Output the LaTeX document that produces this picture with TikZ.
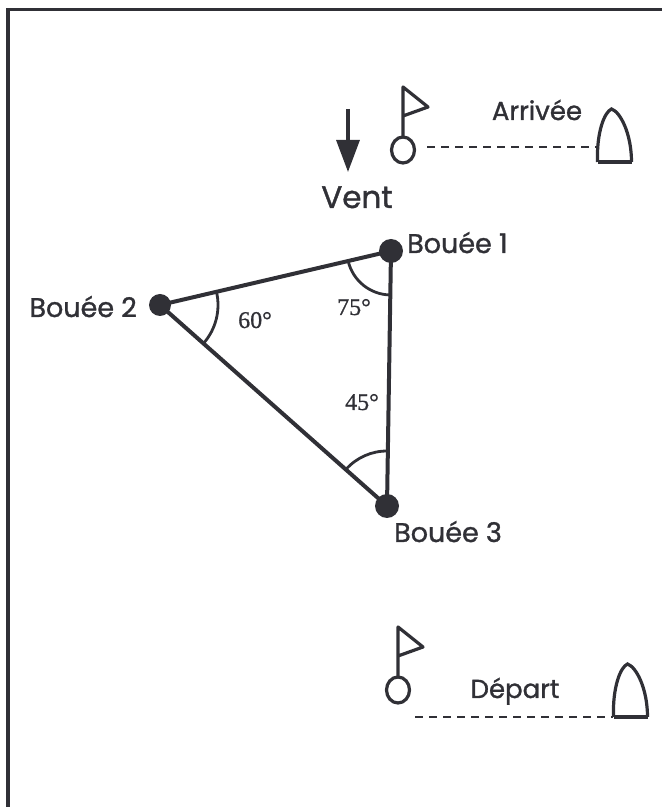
\documentclass[tikz,border=0pt]{standalone}
\usepackage{fontspec}
\setmainfont{Poppins}
\newfontfamily\lblfont{Poppins}[FakeBold=1.2]
\newfontfamily\degfont{Liberation Serif}[FakeBold=0.8]
\usetikzlibrary{arrows.meta}
\usetikzlibrary{angles}
\definecolor{ink}{RGB}{48,48,54}
\tikzset{
	buoy/.style={circle, fill=ink, inner sep=0pt, minimum size=24pt},
	lbl/.style={text=ink, inner sep=0pt, font=\lblfont\fontsize{27}{30}\selectfont},
	deg/.style={text=ink, inner sep=0pt, font=\degfont\fontsize{24}{26}\selectfont},
	leg/.style={draw=ink, line width=4pt},
	ang/.style={draw=ink, line width=2.8pt},
	course/.style={draw=ink, line width=2.8pt, dash pattern=on 8pt off 6pt},
	flag/.pic={
		\draw[ink, line width=3.2pt] (0,0) ellipse [x radius=11.5pt, y radius=13pt];
		\draw[ink, line width=3.2pt, line join=round] (0,13) -- (0,63) -- (25,43) -- (0,34);
	},
	boat/.pic={
		\draw[ink, line width=3.2pt] (-17,0) .. controls (-18,30) and (-10,50) .. (-3,53)
			.. controls (6,50) and (17,28) .. (17,0);
		\draw[ink, line width=3.8pt] (-17,0) -- (17,0);
	},
}
\begin{document}
\begin{tikzpicture}[x=1pt, y=1pt]
	\useasboundingbox (0,0) rectangle (662,807);

	% frame
	\draw[ink, line width=3.2pt] (8,0) -- (8,797.5) -- (662,797.5);

	% buoys
	\node[buoy] (b1) at (391,556) {};
	\node[buoy, minimum size=22pt] (b2) at (160,502) {};
	\node[buoy] (b3) at (387,301) {};

	\draw[leg] (b2.center) -- (b1.center) -- (b3.center) -- cycle;

	\pic[ang, angle radius=44pt] {angle = b2--b1--b3};
	\pic[ang, angle radius=58pt] {angle = b3--b2--b1};
	\pic[ang, angle radius=55pt] {angle = b1--b3--b2};

	\node[lbl, anchor=base west] (lb1) at (407,554) {Bouée 1};
	\node[lbl, anchor=base east] (lb2) at (137,490) {Bouée 2};
	\node[lbl, anchor=base west] (lb3) at (394,265) {Bouée 3};

	\node[deg, anchor=base] (a2) at (255,479) {60°};
	\node[deg, anchor=base] (a1) at (354,492) {75°};
	\node[deg, anchor=base] (a3) at (362,397) {45°};

	% wind
	\coordinate (wtop) at (348,698);
	\coordinate (wtip) at (348,635);
	\draw[ink, line width=3.2pt, -{Triangle[length=32pt, width=23pt]}] (wtop) -- (wtip);
	\node[lbl, anchor=base, font=\lblfont\fontsize{31}{34}\selectfont] (vent) at (357,599) {Vent};

	% finish
	\pic at (403,657) {flag};
	\pic at (614.5,645) {boat};
	\coordinate (fa) at (427,660);
	\coordinate (fb) at (597,660);
	\draw[course] (fa) -- (fb);
	\node[lbl, anchor=base, font=\lblfont\fontsize{26}{28}\selectfont] (arr) at (537,687) {Arrivée};

	% start
	\pic at (398,117) {flag};
	\pic at (630.5,90) {boat};
	\coordinate (sa) at (415,90);
	\coordinate (sb) at (613,90);
	\draw[course] (sa) -- (sb);
	\node[lbl, anchor=base, font=\lblfont\fontsize{26}{28}\selectfont] (dep) at (515,109) {Départ};
\end{tikzpicture}
\end{document}
